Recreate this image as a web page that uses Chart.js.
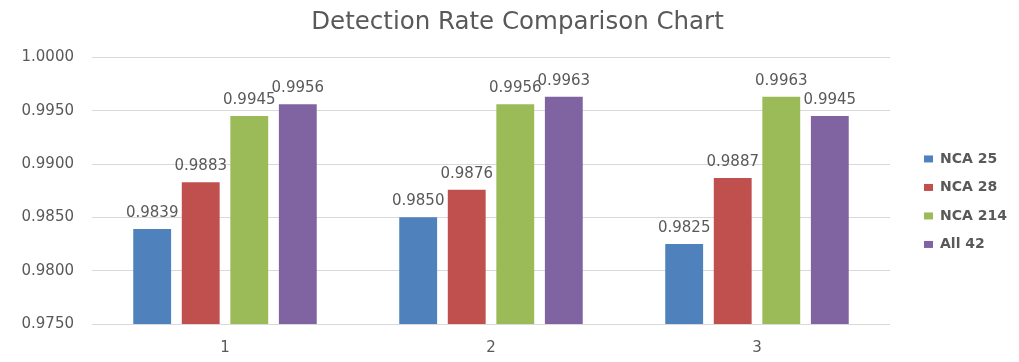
<!DOCTYPE html>
<html>
<head>
<meta charset="utf-8">
<title>Detection Rate Comparison Chart</title>
<script src="https://cdn.jsdelivr.net/npm/chart.js@4/dist/chart.umd.min.js"></script>
<style>
  html, body { margin: 0; padding: 0; background: #ffffff; }
  #wrap { position: relative; width: 1019px; height: 362px; }
</style>
</head>
<body>
<div id="wrap"><canvas id="chart"></canvas></div>
<script>
// Test groups along the x axis
const categories = ['1', '2', '3'];

// Detection rate per feature set
const nca25  = [0.9839, 0.9850, 0.9825];
const nca28  = [0.9883, 0.9876, 0.9887];
const nca214 = [0.9945, 0.9956, 0.9963];
const all42  = [0.9956, 0.9963, 0.9945];

const seriesNames = ['NCA 25', 'NCA 28', 'NCA 214', 'All 42'];
const seriesColors = ['#4F81BD', '#C0504D', '#9BBB59', '#8064A2'];

// Y axis range and tick step
const yMin = 0.975;
const yMax = 1.0;
const yStep = 0.005;

const FONT = 'DejaVu Sans';
const TEXT = '#595959';

// Writes each bar's value just above it
const valueLabels = {
  id: 'valueLabels',
  afterDatasetsDraw(chart) {
    const ctx = chart.ctx;
    ctx.save();
    ctx.font = `15px "${FONT}"`;
    ctx.fillStyle = TEXT;
    ctx.textAlign = 'center';
    ctx.textBaseline = 'middle';
    chart.data.datasets.forEach((ds, i) => {
      const meta = chart.getDatasetMeta(i);
      meta.data.forEach((bar, j) => {
        ctx.fillText(ds.data[j].toFixed(4), bar.x, bar.y - 16);
      });
    });
    ctx.restore();
  }
};

// Legend drawn in the strip kept free to the right of the plot
const sideLegend = {
  id: 'sideLegend',
  afterDraw(chart) {
    const ctx = chart.ctx;
    const area = chart.chartArea;
    const rows = chart.data.datasets.length;
    const step = 28.5;
    const x = area.right + 34;
    const midY = (area.top + area.bottom) / 2 + 11;
    const startY = midY - step * (rows - 1) / 2;
    ctx.save();
    ctx.font = `bold 14px "${FONT}"`;
    ctx.textBaseline = 'middle';
    ctx.textAlign = 'left';
    chart.data.datasets.forEach((ds, i) => {
      const y = startY + i * step;
      ctx.fillStyle = ds.backgroundColor;
      ctx.fillRect(x, y - 3.5, 9, 7);
      ctx.fillStyle = TEXT;
      ctx.fillText(ds.label, x + 16, y);
    });
    ctx.restore();
  }
};

const datasets = [nca25, nca28, nca214, all42].map((values, i) => ({
  label: seriesNames[i],
  data: values,
  backgroundColor: seriesColors[i],
  borderWidth: 0,
  barPercentage: 0.78,
  categoryPercentage: 0.73
}));

new Chart(document.getElementById('chart'), {
  type: 'bar',
  data: { labels: categories, datasets },
  options: {
    responsive: true,
    maintainAspectRatio: false,
    animation: false,
    layout: { padding: { left: 16, right: 0, top: 0, bottom: 4 } },
    plugins: {
      legend: { display: false },
      tooltip: { enabled: false },
      title: {
        display: true,
        text: 'Detection Rate Comparison Chart',
        color: TEXT,
        font: { family: FONT, size: 24.5, weight: 'normal' },
        padding: { top: 8, bottom: 20 }
      }
    },
    scales: {
      x: {
        grid: { display: false, drawTicks: false },
        border: { display: false },
        ticks: { color: TEXT, font: { family: FONT, size: 15 }, padding: 15 },
        afterFit(scale) { scale.height = 34; }
      },
      y: {
        min: yMin,
        max: yMax,
        grid: { color: '#D9D9D9', lineWidth: 1, drawTicks: false },
        border: { display: false },
        ticks: {
          stepSize: yStep,
          color: TEXT,
          font: { family: FONT, size: 15 },
          padding: 18,
          callback: v => Number(v).toFixed(4)
        },
        afterFit(scale) { scale.width = 76; }
      },
      // empty strip on the right that holds the legend
      legendStrip: {
        type: 'linear',
        position: 'right',
        grid: { display: false, drawTicks: false },
        border: { display: false },
        ticks: { display: false },
        afterFit(scale) { scale.width = 129; }
      }
    }
  },
  plugins: [valueLabels, sideLegend]
});
</script>
</body>
</html>
